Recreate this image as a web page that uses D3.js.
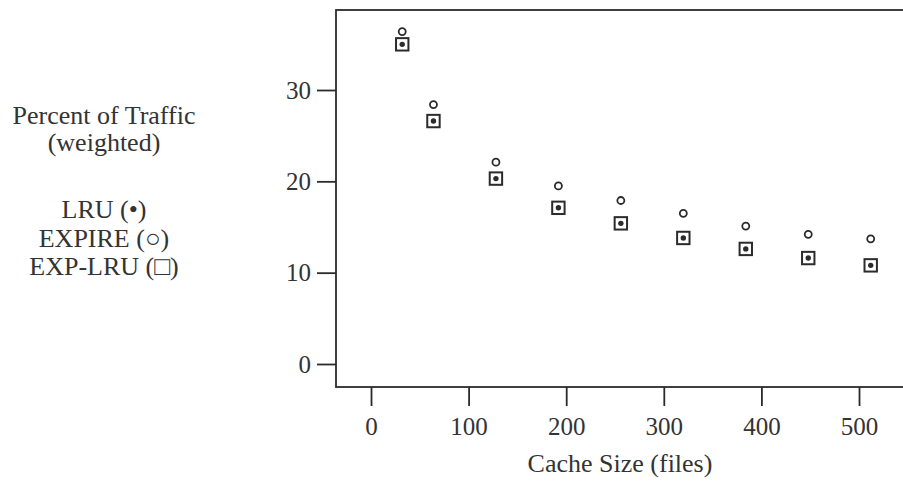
<!DOCTYPE html>
<html>
<head>
<meta charset="utf-8">
<script src="https://cdn.jsdelivr.net/npm/d3@7"></script>
<style>
    body { margin: 0; background: #fff; }
    text { font-family: "Liberation Serif", "Times New Roman", serif; fill: #333; }
</style>
</head>
<body>
<div id="cache_chart"></div>
<script>
// cache sizes (files) and percent of traffic (weighted)
var cacheSizes = [32, 64, 128, 192, 256, 320, 384, 448, 512];
var lruValues = [35.0, 26.6, 20.3, 17.1, 15.4, 13.8, 12.6, 11.6, 10.8];
var expireValues = [36.4, 28.4, 22.1, 19.5, 17.9, 16.5, 15.1, 14.2, 13.7];
var expLruValues = [35.0, 26.6, 20.3, 17.1, 15.4, 13.8, 12.6, 11.6, 10.8];

var xTicks = [0, 100, 200, 300, 400, 500];
var yTicks = [0, 10, 20, 30];
var legendLines = ["Percent of Traffic", "(weighted)", "", "LRU (\u2022)", "EXPIRE (\u25CB)", "EXP-LRU (\u25A1)"];
var xTitle = "Cache Size (files)";

function scatterChart(id) {
    var width = 903, height = 481;
    var frame = {left: 336, top: 10, right: 910, bottom: 387};
    var ink = "#2b2b2b";

    var svg = d3.select("#" + id)
        .html("")
        .append("svg")
        .attr("width", width)
        .attr("height", height);

    var x = d3.scaleLinear()
        .domain([0, 500])
        .range([371, 859]);

    var y = d3.scaleLinear()
        .domain([0, 30])
        .range([364, 90]);

    // plot frame
    svg.append("rect")
        .attr("x", frame.left)
        .attr("y", frame.top)
        .attr("width", frame.right - frame.left)
        .attr("height", frame.bottom - frame.top)
        .attr("fill", "none")
        .attr("stroke", ink)
        .attr("stroke-width", 1.8);

    var yAxis = svg.append("g")
        .attr("transform", "translate(" + frame.left + ",0)")
        .call(d3.axisLeft(y).tickValues(yTicks).tickSize(19).tickPadding(6));

    var xAxis = svg.append("g")
        .attr("transform", "translate(0," + frame.bottom + ")")
        .call(d3.axisBottom(x).tickValues(xTicks).tickSize(19).tickPadding(11));

    [xAxis, yAxis].forEach(function (ax) {
        ax.select(".domain").remove();
        ax.selectAll("line").attr("stroke", ink).attr("stroke-width", 1.8);
        ax.selectAll("text")
            .attr("fill", "#333")
            .style("font-family", "'Liberation Serif', serif")
            .style("font-size", "25px");
    });

    svg.append("text")
        .attr("x", 620)
        .attr("y", 472)
        .attr("text-anchor", "middle")
        .style("font-size", "26px")
        .text(xTitle);

    // left legend block
    var legendY = [124, 151, null, 218, 247, 275];
    legendLines.forEach(function (t, i) {
        if (!t) return;
        svg.append("text")
            .attr("x", 104)
            .attr("y", legendY[i])
            .attr("text-anchor", "middle")
            .style("font-size", "26px")
            .text(t);
    });

    var marks = svg.append("g");

    // EXP-LRU squares
    marks.selectAll(".sq")
        .data(cacheSizes)
        .enter().append("rect")
        .attr("class", "sq")
        .attr("x", function (d) { return x(d) - 6.2; })
        .attr("y", function (d, i) { return y(expLruValues[i]) - 6.2; })
        .attr("width", 12.4)
        .attr("height", 12.4)
        .attr("fill", "none")
        .attr("stroke", ink)
        .attr("stroke-width", 2);

    // LRU dots
    marks.selectAll(".dot")
        .data(cacheSizes)
        .enter().append("circle")
        .attr("class", "dot")
        .attr("cx", function (d) { return x(d); })
        .attr("cy", function (d, i) { return y(lruValues[i]); })
        .attr("r", 2.7)
        .attr("fill", ink);

    // EXPIRE circles
    marks.selectAll(".ring")
        .data(cacheSizes)
        .enter().append("circle")
        .attr("class", "ring")
        .attr("cx", function (d) { return x(d); })
        .attr("cy", function (d, i) { return y(expireValues[i]); })
        .attr("r", 3.5)
        .attr("fill", "none")
        .attr("stroke", ink)
        .attr("stroke-width", 1.8);
}

scatterChart("cache_chart");
</script>
</body>
</html>
